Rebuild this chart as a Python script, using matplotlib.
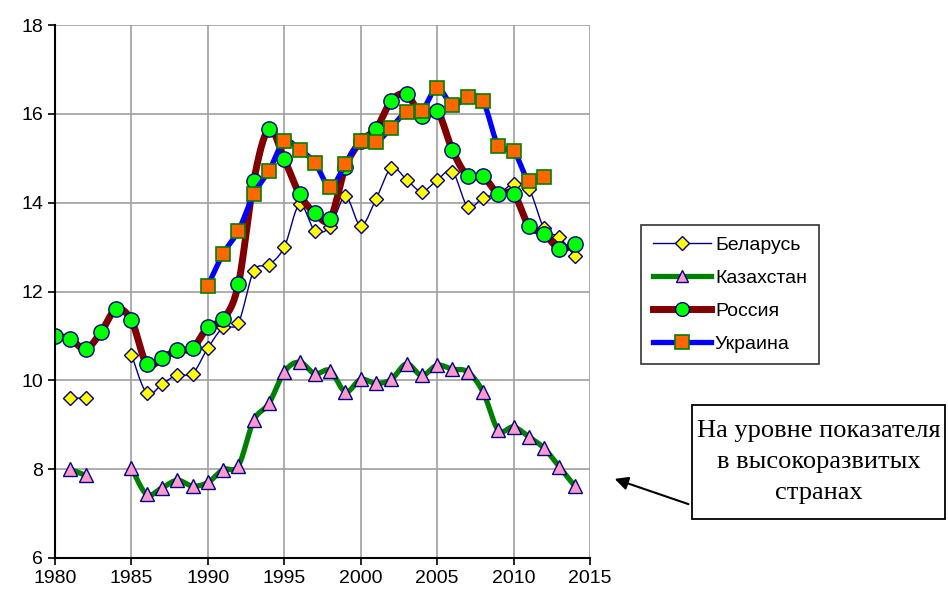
import numpy as np
import matplotlib
matplotlib.use("Agg")
import matplotlib.pyplot as plt
from matplotlib.lines import Line2D
from matplotlib.patches import FancyArrowPatch

nan = np.nan
years = list(range(1980, 2015))

belarus = [nan, 9.6, 9.6, nan, nan, 10.58, 9.71, 9.91, 10.13, 10.15,
           10.73, 11.19, 11.3, 12.46, 12.6, 13.0, 13.96, 13.37, 13.46, 14.14,
           13.48, 14.08, 14.78, 14.52, 14.25, 14.51, 14.7, 13.91, 14.11, 14.2,
           14.42, 14.31, 13.42, 13.22, 12.79]
kazakhstan = [nan, 8.0, 7.86, nan, nan, 8.03, 7.43, 7.58, 7.75, 7.62,
              7.7, 7.99, 8.08, 9.1, 9.48, 10.19, 10.41, 10.15, 10.22, 9.74,
              10.02, 9.93, 10.02, 10.37, 10.11, 10.34, 10.25, 10.19, 9.74, 8.88,
              8.95, 8.73, 8.47, 8.05, 7.62]
russia = [11.0, 10.93, 10.7, 11.08, 11.6, 11.35, 10.37, 10.5, 10.68, 10.72,
          11.2, 11.37, 12.17, 14.49, 15.66, 14.98, 14.19, 13.77, 13.63, 14.8,
          15.38, 15.66, 16.29, 16.44, 15.95, 16.07, 15.18, 14.6, 14.59, 14.2,
          14.2, 13.48, 13.3, 12.96, 13.07]
ukraine = [nan] * 10 + [12.13, 12.85, 13.37, 14.19, 14.72, 15.38, 15.19, 14.9, 14.35, 14.87,
                        15.39, 15.36, 15.69, 16.05, 16.07, 16.59, 16.19, 16.38, 16.28, 15.28,
                        15.17, 14.49, 14.58, nan, nan]

labels = ["Беларусь", "Казахстан", "Россия", "Украина"]
x_ticks = [1980, 1985, 1990, 1995, 2000, 2005, 2010, 2015]
y_ticks = [6, 8, 10, 12, 14, 16, 18]
note_text = "На уровне показателя\nв высокоразвитых\nстранах"

plt.rcParams['font.family'] = ['Liberation Sans', 'DejaVu Sans']


def smooth_segments(xs, ys, n=20):
    """Catmull-Rom smoothing of each contiguous run of valid points (like Excel smoothed lines)."""
    xs = np.asarray(xs, float)
    ys = np.asarray(ys, float)
    out_x, out_y = [], []
    valid = ~np.isnan(ys)
    i = 0
    N = len(xs)
    while i < N:
        if not valid[i]:
            i += 1
            continue
        j = i
        while j + 1 < N and valid[j + 1]:
            j += 1
        px = xs[i:j + 1]
        py = ys[i:j + 1]
        if len(px) == 1:
            sx, sy = px, py
        else:
            P = np.column_stack([px, py])
            P = np.vstack([P[0], P, P[-1]])
            segx, segy = [], []
            for k in range(1, len(P) - 2):
                p0, p1, p2, p3 = P[k - 1], P[k], P[k + 1], P[k + 2]
                t = np.linspace(0, 1, n, endpoint=(k == len(P) - 3))
                t = t[:, None]
                c = 0.5 * ((2 * p1) + (-p0 + p2) * t + (2 * p0 - 5 * p1 + 4 * p2 - p3) * t ** 2
                           + (-p0 + 3 * p1 - 3 * p2 + p3) * t ** 3)
                segx.extend(c[:, 0])
                segy.extend(c[:, 1])
            sx, sy = np.array(segx), np.array(segy)
        out_x.extend(list(sx) + [nan])
        out_y.extend(list(sy) + [nan])
        i = j + 1
    return np.array(out_x), np.array(out_y)


fig = plt.figure(figsize=(9.48, 5.96), dpi=100)
ax = fig.add_axes([55 / 948, 1 - 558 / 596, 535 / 948, 533 / 596])

styles = [
    dict(color="#000080", lw=1.0, marker="D", ms=7.5, mfc="#FFFF00", mec="#000080", mew=1.0),
    dict(color="#008000", lw=3.8, marker="^", ms=10, mfc="#FF99CC", mec="#000080", mew=1.0),
    dict(color="#800000", lw=5.0, marker="o", ms=11, mfc="#00FF00", mec="#000080", mew=1.0),
    dict(color="#0000FF", lw=3.8, marker="s", ms=10.5, mfc="#FF6600", mec="#008000", mew=1.2),
]
series = [belarus, kazakhstan, russia, ukraine]

handles = []
for k, (vals, st, lab) in enumerate(zip(series, styles, labels)):
    sx, sy = smooth_segments(years, vals)
    ax.plot(sx, sy, color=st["color"], lw=st["lw"], solid_capstyle="round", zorder=3 + 2 * k)
    ax.plot(years, vals, linestyle="none", marker=st["marker"], ms=st["ms"], mfc=st["mfc"],
            mec=st["mec"], mew=st["mew"], zorder=4 + 2 * k)
    handles.append(Line2D([0], [0], color=st["color"], lw=st["lw"], marker=st["marker"],
                          ms=st["ms"] * 0.9, mfc=st["mfc"], mec=st["mec"], mew=st["mew"]))

ax.set_xlim(1980, 2015)
ax.set_ylim(6, 18)
ax.set_xticks(x_ticks)
ax.set_yticks(y_ticks)
ax.tick_params(axis="both", labelsize=14, direction="out", length=5, width=1.2, colors="black")
ax.grid(True, color="#A0A0A0", lw=1.2, zorder=0)
ax.set_axisbelow(True)
for side in ["top", "right"]:
    ax.spines[side].set_visible(False)
for side in ["left", "bottom"]:
    ax.spines[side].set_linewidth(1.5)
    ax.spines[side].set_color("black")
    ax.spines[side].set_zorder(20)

leg = fig.legend(handles, labels, loc="upper left",
                 bbox_to_anchor=(641 / 948, 1 - 225 / 596), fontsize=14,
                 frameon=True, fancybox=False, edgecolor="black", handlelength=3.0,
                 handletextpad=0.2, borderpad=0.6, labelspacing=0.78, borderaxespad=0)
leg.get_frame().set_linewidth(1.2)

# annotation box
fig.text((692 + 945) / 2 / 948, 1 - 462 / 596, note_text, ha="center", va="center",
         fontsize=19, family=["Liberation Serif", "DejaVu Serif"], linespacing=1.55)
box = plt.Rectangle((692 / 948, 1 - 519 / 596), (945 - 692) / 948, (519 - 405) / 596,
                    transform=fig.transFigure, fill=False, edgecolor="black", lw=1.3)
fig.patches.append(box)
arr = FancyArrowPatch((691 / 948, 1 - 505 / 596), (612 / 948, 1 - 478 / 596),
                      transform=fig.transFigure, arrowstyle="-|>", mutation_scale=20,
                      color="black", lw=1.5)
fig.patches.append(arr)

fig.savefig("out.png", dpi=100)
